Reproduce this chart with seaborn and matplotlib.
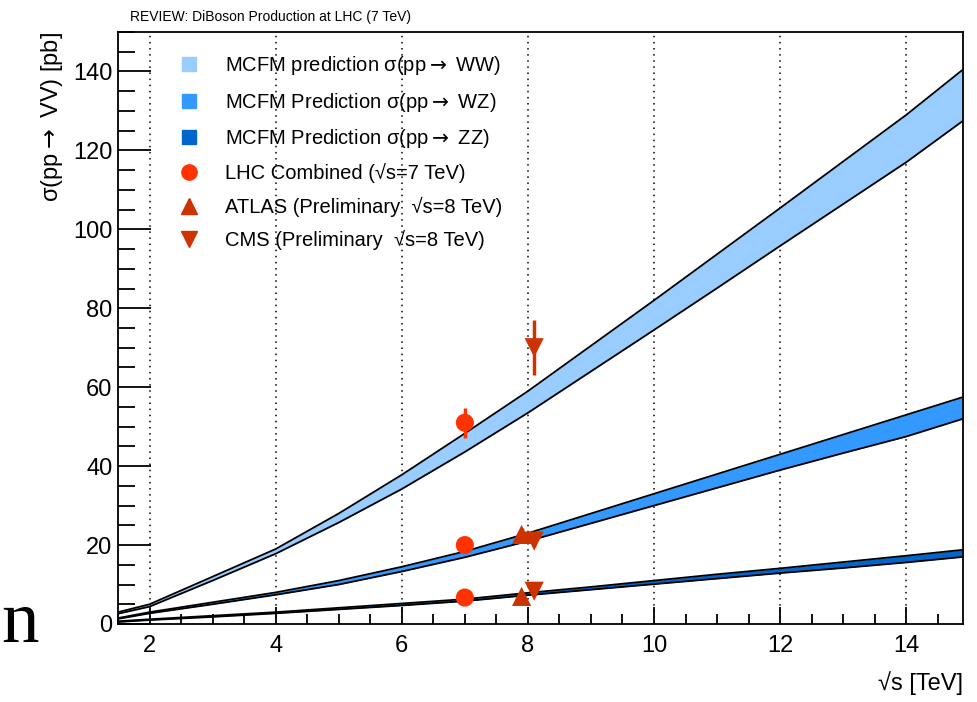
import numpy as np
import pandas as pd
import matplotlib
matplotlib.use("Agg")
import matplotlib.pyplot as plt
import seaborn as sns
from matplotlib.lines import Line2D
from matplotlib.ticker import MultipleLocator

# theory bands (MCFM)
sqrt_s = [1.5, 2, 3, 4, 5, 6, 7, 8, 9, 10, 11, 12, 13, 14, 14.9]
ww_up = [3.0, 5.0, 12.0, 19.0, 28.0, 37.8, 48.3, 59.0, 70.5, 82.0, 93.7, 105.4, 117.2, 129.0, 140.5]
ww_lo = [2.6, 4.4, 11.0, 17.8, 25.7, 34.2, 43.6, 53.5, 64.0, 74.5, 85.1, 95.8, 106.4, 117.0, 127.5]
wz_up = [1.5, 3.0, 5.5, 8.0, 11.0, 14.5, 18.4, 23.0, 28.0, 33.0, 38.0, 43.0, 48.0, 53.0, 57.5]
wz_lo = [1.3, 2.7, 5.0, 7.4, 10.0, 13.3, 16.9, 21.0, 25.5, 30.0, 34.5, 39.0, 43.3, 47.5, 52.0]
zz_up = [0.7, 1.2, 2.1, 3.0, 4.1, 5.2, 6.3, 7.9, 9.4, 11.0, 12.6, 14.1, 15.7, 17.3, 18.8]
zz_lo = [0.5, 1.0, 1.8, 2.7, 3.7, 4.7, 5.8, 7.3, 8.7, 10.1, 11.5, 12.9, 14.2, 15.6, 17.0]

# measurements
lhc_x = [7.0, 7.0, 7.0]
lhc_y = [51.0, 20.0, 6.7]
lhc_err = [3.8, 1.5, 0.8]
atlas_x = [7.9, 7.9]
atlas_y = [22.7, 7.0]
atlas_err = [1.5, 0.8]
cms_x = [8.1, 8.1, 8.1]
cms_y = [70.0, 21.0, 8.3]
cms_err = [7.0, 1.5, 0.8]

c_ww, c_wz, c_zz = "#99ccff", "#3399ff", "#0066cc"
c_lhc, c_exp = "#ff3300", "#cc3300"

sns.set_style("ticks")
plt.rcParams["font.family"] = ["Liberation Sans", "DejaVu Sans"]
plt.rcParams["mathtext.fontset"] = "dejavusans"
plt.rcParams["text.color"] = "black"
plt.rcParams["axes.labelcolor"] = "black"

fig = plt.figure(figsize=(9.78, 7.02), dpi=100)
ax = fig.add_axes([118 / 978, 78 / 702, 845 / 978, 592 / 702])

df = pd.DataFrame({"x": sqrt_s, "ww_up": ww_up, "ww_lo": ww_lo, "wz_up": wz_up,
                   "wz_lo": wz_lo, "zz_up": zz_up, "zz_lo": zz_lo})

for up, lo, col in [("ww_up", "ww_lo", c_ww), ("wz_up", "wz_lo", c_wz), ("zz_up", "zz_lo", c_zz)]:
    ax.fill_between(df["x"], df[lo], df[up], color=col, lw=0, zorder=2)
    sns.lineplot(data=df, x="x", y=up, color="black", lw=1.3, ax=ax, zorder=3)
    sns.lineplot(data=df, x="x", y=lo, color="black", lw=1.3, ax=ax, zorder=3)

# error bars then markers
ax.errorbar(lhc_x, lhc_y, yerr=lhc_err, fmt="none", ecolor=c_lhc, elinewidth=2.5, zorder=4)
ax.errorbar(atlas_x, atlas_y, yerr=atlas_err, fmt="none", ecolor=c_exp, elinewidth=2.5, zorder=4)
ax.errorbar(cms_x, cms_y, yerr=cms_err, fmt="none", ecolor=c_exp, elinewidth=2.5, zorder=4)
sns.scatterplot(x=lhc_x, y=lhc_y, marker="o", s=170, color=c_lhc, edgecolor="none", ax=ax, zorder=5)
sns.scatterplot(x=atlas_x, y=atlas_y, marker="^", s=190, color=c_exp, edgecolor="none", ax=ax, zorder=5)
sns.scatterplot(x=cms_x, y=cms_y, marker="v", s=190, color=c_exp, edgecolor="none", ax=ax, zorder=5)

ax.set_xlim(1.5, 14.9)
ax.set_ylim(0, 150)
ax.xaxis.set_major_locator(MultipleLocator(2))
ax.xaxis.set_minor_locator(MultipleLocator(0.5))
ax.yaxis.set_major_locator(MultipleLocator(20))
ax.yaxis.set_minor_locator(MultipleLocator(5))
ax.tick_params(axis="both", which="both", direction="in", labelsize=17, width=1.3, colors="black")
ax.tick_params(axis="x", which="major", length=12, pad=8)
ax.tick_params(axis="x", which="minor", length=7)
ax.tick_params(axis="y", which="major", length=24, pad=4)
ax.tick_params(axis="y", which="minor", length=12)
for sp in ax.spines.values():
    sp.set_linewidth(1.3)
    sp.set_color("black")
for gx in range(2, 15, 2):
    ax.axvline(gx, color="black", ls=(0, (1, 3)), lw=1.1, zorder=1)

arrow = r"$\rightarrow$"
ax.set_xlabel("√s [TeV]", fontsize=17, ha="right", x=1.0, labelpad=10)
ax.set_ylabel("σ(pp" + arrow + " VV) [pb]", fontsize=17, ha="right", y=1.0, labelpad=6)
fig.text(130 / 978, 1 - 17 / 702, "REVIEW: DiBoson Production at LHC (7 TeV)",
         fontsize=10, va="center", ha="left")

handles = [
    Line2D([], [], ls="none", marker="s", ms=10, color=c_ww),
    Line2D([], [], ls="none", marker="s", ms=10, color=c_wz),
    Line2D([], [], ls="none", marker="s", ms=10, color=c_zz),
    Line2D([], [], ls="none", marker="o", ms=11, color=c_lhc),
    Line2D([], [], ls="none", marker="^", ms=11, color=c_exp),
    Line2D([], [], ls="none", marker="v", ms=11, color=c_exp),
]
labels = ["MCFM prediction σ(pp" + arrow + " WW)", "MCFM Prediction σ(pp" + arrow + " WZ)",
          "MCFM Prediction σ(pp" + arrow + " ZZ)", "LHC Combined (√s=7 TeV)",
          "ATLAS (Preliminary  √s=8 TeV)", "CMS (Preliminary  √s=8 TeV)"]
ax.legend(handles, labels, loc="upper left", bbox_to_anchor=(0.072, 0.962), frameon=False,
          fontsize=14.5, labelspacing=0.66, handlelength=1.0, handletextpad=1.3,
          borderpad=0, borderaxespad=0)

# stray glyph from the page behind the chart
fig.text(1 / 978, 60 / 702, "n", fontsize=54, family="Liberation Serif", ha="left", va="baseline")

fig.savefig("out.png", dpi=100)
